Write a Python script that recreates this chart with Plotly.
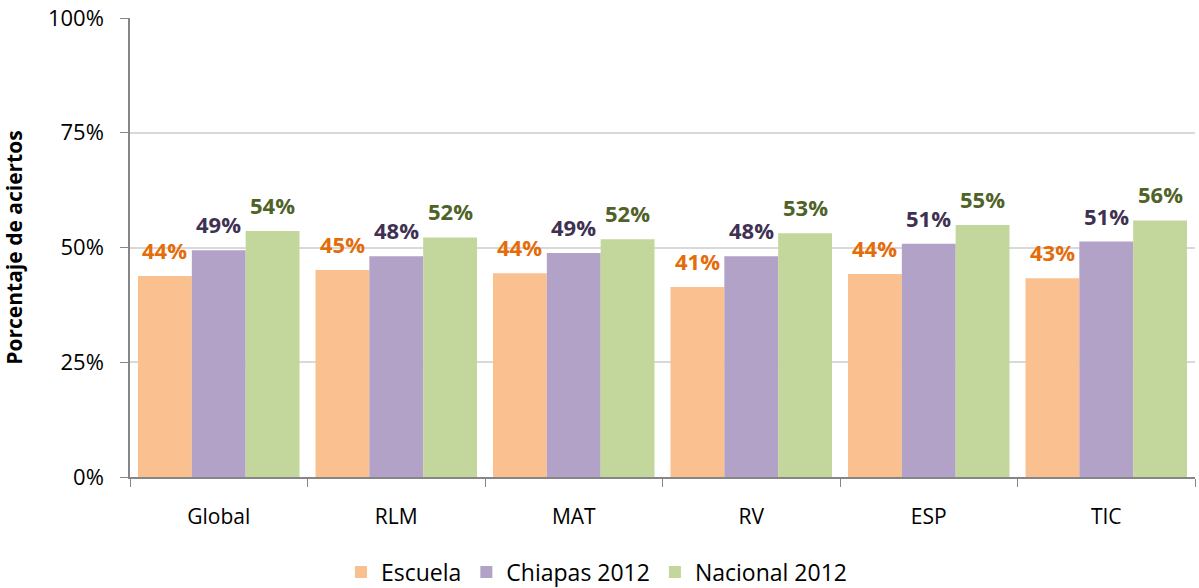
import plotly.graph_objects as go

categories = ["Global", "RLM", "MAT", "RV", "ESP", "TIC"]
escuela = [43.8, 45.1, 44.4, 41.4, 44.2, 43.3]
chiapas = [49.4, 48.1, 48.8, 48.1, 50.8, 51.3]
nacional = [53.6, 52.2, 51.8, 53.1, 54.9, 55.9]
series_names = ["Escuela", "Chiapas 2012", "Nacional 2012"]
bar_colors = ["#FAC090", "#B3A2C7", "#C3D69B"]
label_colors = ["#E46C0A", "#403152", "#4F6228"]

FONT = "Open Sans, Lato, sans-serif"
fig = go.Figure()
all_series = [escuela, chiapas, nacional]
for name, vals, col in zip(series_names, all_series, bar_colors):
    fig.add_trace(go.Bar(x=categories, y=vals, name=name, marker=dict(color=col, line=dict(width=0))))

bargap = 0.09
bw = (1 - bargap) / 3
annotations = []
for j, (vals, lc) in enumerate(zip(all_series, label_colors)):
    for i, v in enumerate(vals):
        annotations.append(dict(
            x=i + (j - 1) * bw, y=v, xref="x", yref="y",
            text=f"{round(v):.0f}%", showarrow=False,
            yanchor="bottom", yshift=9,
            font=dict(family=FONT, size=22, color=lc, weight="bold"),
        ))

fig.update_layout(
    width=1199, height=588,
    paper_bgcolor="white", plot_bgcolor="white",
    margin=dict(l=130, r=4, t=18, b=111, autoexpand=False),
    barmode="group", bargap=bargap, bargroupgap=0,
    font=dict(family=FONT, size=21, color="#000000"),
    annotations=annotations,
    showlegend=True,
    legend=dict(orientation="h", x=0.438, xanchor="center", y=-0.207, yanchor="middle",
                font=dict(family=FONT, size=23), itemwidth=30, traceorder="normal"),
    xaxis=dict(
        type="category", showline=True, linecolor="#868686", linewidth=1.5,
        ticks="outside", ticklen=8, tickcolor="#868686", tickson="boundaries",
        ticklabelstandoff=20, showgrid=False, tickfont=dict(family=FONT, size=21),
        automargin=False,
    ),
    yaxis=dict(
        range=[0, 100], tickvals=[0, 25, 50, 75, 100],
        ticktext=["0%", "25%", "50%", "75%", "100%"],
        showline=True, linecolor="#868686", linewidth=1.5,
        ticks="outside", ticklen=8, tickcolor="#868686",
        showgrid=True, gridcolor="#D9D9D9", gridwidth=1.5,
        ticklabelstandoff=12, zeroline=False, automargin=False,
        tickfont=dict(family=FONT, size=22),
        title=dict(text="<b>Porcentaje de aciertos</b>", font=dict(family=FONT, size=21), standoff=28),
    ),
)
fig.write_html("out.html", config={"displayModeBar": False},
               post_script="document.body.style.margin='0';document.body.style.overflow='hidden';")
